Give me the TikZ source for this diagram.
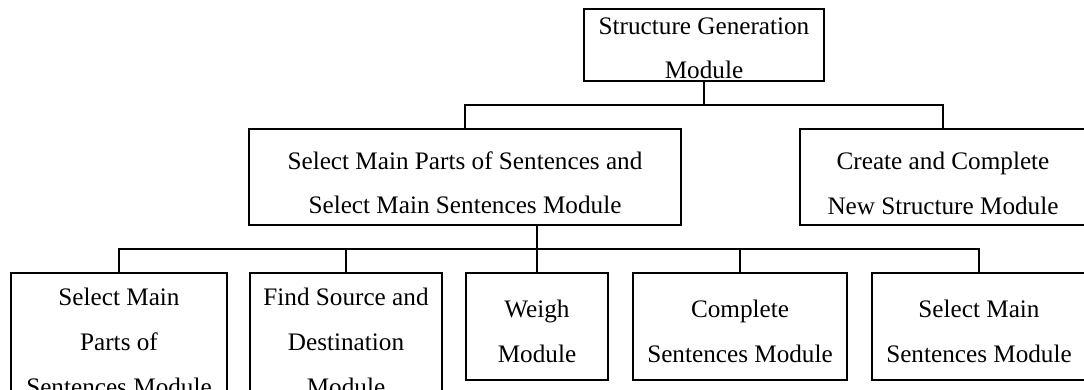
\documentclass[tikz,border=0pt]{standalone}
\usepackage{fontspec}
\setmainfont{Liberation Serif}
\begin{document}
\begin{tikzpicture}[x=1pt,y=-1pt,
  box/.style={draw=black, line width=1.6pt, inner sep=0pt, outer sep=0pt, anchor=center},
  txt/.style={inner sep=0pt, anchor=base, font=\fontsize{25.2}{30}\selectfont},
  wire/.style={draw=black, line width=1.6pt}]
\useasboundingbox (0,0) rectangle (1084,389);

% module boxes
\node[box, minimum width=240pt, minimum height=72pt]  (top)      at (704,45)    {};
\node[box, minimum width=432pt, minimum height=96pt]  (main)     at (465,177)   {};
\node[box, minimum width=286pt, minimum height=96pt]  (create)   at (943,177)   {};
\node[box, minimum width=216pt, minimum height=140pt] (parts)    at (119,343)   {};
\node[box, minimum width=192pt, minimum height=140pt] (source)   at (346,343)   {};
\node[box, minimum width=142pt, minimum height=107pt] (weigh)    at (537,326.5) {};
\node[box, minimum width=214pt, minimum height=107pt] (complete) at (740,326.5) {};
\node[box, minimum width=214pt, minimum height=107pt] (selmain)  at (979,326.5) {};

% labels
\node[txt] (topA) at (704,34) {Structure Generation};
\node[txt] (topB) at (704,78) {Module};
\node[txt] (mainA) at (465,169) {Select Main Parts of Sentences and};
\node[txt] (mainB) at (465,213) {Select Main Sentences Module};
\node[txt] (createA) at (943,169) {Create and Complete};
\node[txt] (createB) at (943,214) {New Structure Module};
\node[txt] (partsA) at (119,305.5) {Select Main};
\node[txt] (partsB) at (119,350.5) {Parts of};
\node[txt] (partsC) at (119,395.5) {Sentences Module};
\node[txt] (sourceA) at (346,305.5) {Find Source and};
\node[txt] (sourceB) at (346,350.5) {Destination};
\node[txt] (sourceC) at (346,395.5) {Module};
\node[txt] (weighA) at (537,317) {Weigh};
\node[txt] (weighB) at (537,362) {Module};
\node[txt] (completeA) at (740,317) {Complete};
\node[txt] (completeB) at (740,362) {Sentences Module};
\node[txt] (selmainA) at (979,317) {Select Main};
\node[txt] (selmainB) at (979,362) {Sentences Module};

% connectors
\coordinate (busA) at (704,105);
\coordinate (busB) at (537,249);
\draw[wire] (top.south) -- (busA);
\draw[wire] (main.north) -- (main.north |- busA) -| (create.north);
\draw[wire] (main.south -| weigh.north) -- (weigh.north);
\draw[wire] (parts.north) -- (parts.north |- busB) -| (selmain.north);
\draw[wire] (source.north) -- (source.north |- busB);
\draw[wire] (complete.north) -- (complete.north |- busB);
\end{tikzpicture}
\end{document}
